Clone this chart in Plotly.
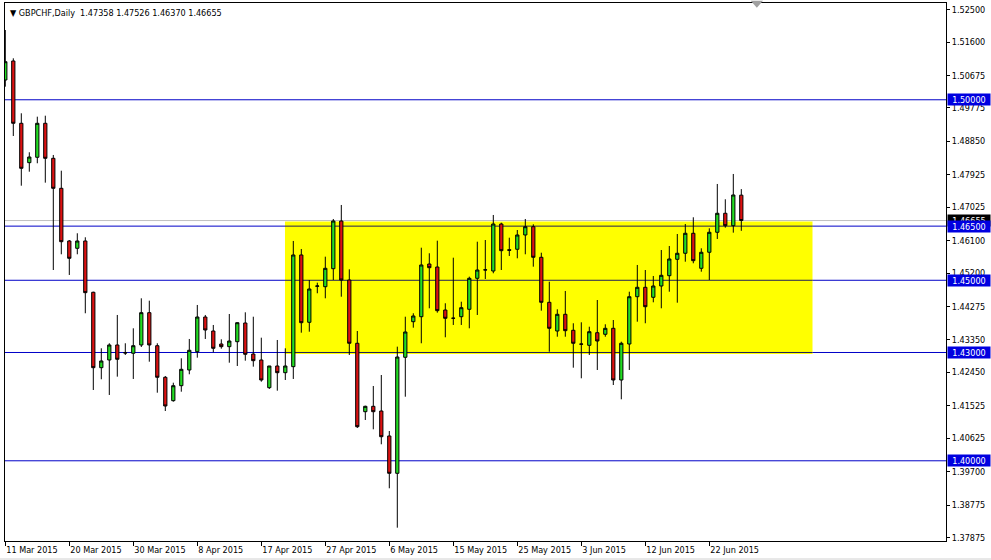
import plotly.graph_objects as go

# ---------------- data (GBPCHF daily) ----------------
open_ = [1.50548, 1.51075, 1.49349, 1.48258, 1.48407, 1.49349, 1.48379, 1.47548, 1.46089, 1.45886,
         1.46089, 1.44668, 1.42579, 1.42792, 1.43208, 1.43000, 1.42978, 1.43208, 1.44103, 1.43188,
         1.42313, 1.41665, 1.42080, 1.42515, 1.43022, 1.43983, 1.43595, 1.43235, 1.43161, 1.43299,
         1.43817, 1.42958, 1.42792, 1.42025, 1.42626, 1.42440, 1.42607, 1.45701, 1.43836, 1.44834,
         1.44822, 1.45321, 1.46642, 1.45008, 1.43255, 1.41360, 1.41509, 1.41379, 1.40687, 1.39653,
         1.42867, 1.43853, 1.43991, 1.45451, 1.45368, 1.44177, 1.43947, 1.43991, 1.44196, 1.45055,
         1.45285, 1.45257, 1.46559, 1.45847, 1.45859, 1.46255, 1.46485, 1.45637, 1.44390, 1.43595,
         1.44058, 1.43615, 1.43235, 1.43199, 1.43548, 1.43504, 1.43670, 1.42238, 1.43235, 1.44545,
         1.44806, 1.44529, 1.44842, 1.45127, 1.45581, 1.45748, 1.46302, 1.45332, 1.45776, 1.46330,
         1.46856, 1.46512, 1.47358]

high = [1.51933, 1.51149, 1.49626, 1.48546, 1.49532, 1.49559, 1.48471, 1.48036, 1.46116, 1.46302,
        1.46191, 1.44684, 1.43116, 1.43255, 1.44039, 1.43255, 1.43670, 1.44501, 1.44435, 1.43255,
        1.42349, 1.42163, 1.42839, 1.43374, 1.44316, 1.44039, 1.43762, 1.43365, 1.44066, 1.43836,
        1.44113, 1.43991, 1.43410, 1.42626, 1.43346, 1.43116, 1.46089, 1.45867, 1.45008, 1.44933,
        1.45654, 1.46698, 1.47086, 1.45304, 1.43595, 1.41526, 1.42072, 1.42376, 1.40825, 1.43161,
        1.43991, 1.44086, 1.45903, 1.45748, 1.46097, 1.44363, 1.45626, 1.44407, 1.45100, 1.46069,
        1.46116, 1.46809, 1.46595, 1.46180, 1.46393, 1.46698, 1.46551, 1.45764, 1.44961, 1.44196,
        1.44704, 1.43809, 1.43836, 1.43714, 1.44454, 1.43781, 1.43900, 1.43299, 1.44684, 1.45424,
        1.45285, 1.45119, 1.45839, 1.45950, 1.46282, 1.46559, 1.46745, 1.45886, 1.46440, 1.47668,
        1.47244, 1.47945, 1.47526]

low = [1.50363, 1.48997, 1.47620, 1.48008, 1.48241, 1.47704, 1.45285, 1.45720, 1.45147, 1.45720,
       1.44086, 1.41961, 1.42258, 1.41823, 1.42330, 1.42931, 1.42266, 1.43152, 1.42745, 1.41886,
       1.41379, 1.41637, 1.41914, 1.42396, 1.42856, 1.43374, 1.43005, 1.43105, 1.42717, 1.42626,
       1.42773, 1.42607, 1.42191, 1.41989, 1.41942, 1.42238, 1.42266, 1.43548, 1.43576, 1.44640,
       1.44501, 1.45008, 1.44545, 1.42931, 1.40908, 1.41130, 1.40872, 1.40457, 1.39238, 1.38147,
       1.41775, 1.43687, 1.43255, 1.44224, 1.44103, 1.43421, 1.43762, 1.43762, 1.43670, 1.44039,
       1.45036, 1.45194, 1.45285, 1.45673, 1.45609, 1.45720, 1.45377, 1.44158, 1.43022, 1.43437,
       1.43437, 1.42579, 1.42285, 1.42931, 1.42515, 1.43437, 1.42099, 1.41703, 1.42515, 1.43853,
       1.43809, 1.44390, 1.44224, 1.44684, 1.44379, 1.45515, 1.45471, 1.45238, 1.45008, 1.46144,
       1.46457, 1.46319, 1.46370]

close = [1.51055, 1.49349, 1.48102, 1.48415, 1.49349, 1.48379, 1.47548, 1.46069, 1.45609, 1.46089,
         1.44657, 1.42579, 1.42765, 1.43208, 1.42812, 1.42986, 1.43188, 1.44103, 1.43208, 1.42313,
         1.41518, 1.42080, 1.42534, 1.43061, 1.43983, 1.43623, 1.43116, 1.43161, 1.43318, 1.43825,
         1.42950, 1.42773, 1.42238, 1.42626, 1.42440, 1.42626, 1.45701, 1.43825, 1.44759, 1.44842,
         1.45332, 1.46642, 1.45008, 1.43255, 1.40944, 1.41509, 1.41360, 1.40667, 1.39653, 1.42875,
         1.43568, 1.44011, 1.45424, 1.45349, 1.44158, 1.43947, 1.43950, 1.44241, 1.45055, 1.45285,
         1.45290, 1.46559, 1.45820, 1.45831, 1.46255, 1.46485, 1.45637, 1.44390, 1.43670, 1.44058,
         1.43604, 1.43255, 1.43230, 1.43576, 1.43318, 1.43670, 1.42238, 1.43255, 1.44545, 1.44806,
         1.44268, 1.44842, 1.45138, 1.45590, 1.45748, 1.46302, 1.45543, 1.45776, 1.46330, 1.46856,
         1.46512, 1.47363, 1.46655]

date_tick_bars = [0, 8, 16, 24, 32, 40, 48, 56, 64, 72, 80, 88]
date_tick_labels = ["11 Mar 2015", "20 Mar 2015", "30 Mar 2015", "8 Apr 2015", "17 Apr 2015",
                    "27 Apr 2015", "6 May 2015", "15 May 2015", "25 May 2015", "3 Jun 2015",
                    "12 Jun 2015", "22 Jun 2015"]

price_ticks = [1.52500, 1.51600, 1.50675, 1.49775, 1.48850, 1.47925, 1.47025, 1.46100, 1.45200,
               1.44275, 1.43350, 1.42450, 1.41525, 1.40625, 1.39700, 1.38775, 1.37875]

level_lines = [1.50000, 1.46500, 1.45000, 1.43000, 1.40000]
bid_price = 1.46655
zone_bars = [34.96, 100.9]
zone_prices = [1.4296, 1.4663]

header = "GBPCHF,Daily  1.47358 1.47526 1.46370 1.46655"

# ---------------- figure ----------------
FONT = "DejaVu Sans Condensed, Liberation Sans, Arial, sans-serif"
x = list(range(len(open_)))

fig = go.Figure()
fig.add_trace(go.Candlestick(
    x=x, open=open_, high=high, low=low, close=close,
    increasing=dict(line=dict(color="black", width=1), fillcolor="#22DD22"),
    decreasing=dict(line=dict(color="black", width=1), fillcolor="#DD1111"),
    whiskerwidth=0, showlegend=False, hoverinfo="skip"))

shapes = []
shapes.append(dict(type="rect", xref="x", yref="y", x0=zone_bars[0], x1=zone_bars[1],
                   y0=zone_prices[0], y1=zone_prices[1], fillcolor="#FFFF00",
                   line=dict(width=0), layer="below"))
shapes.append(dict(type="line", xref="paper", yref="y", x0=0, x1=1, y0=bid_price, y1=bid_price,
                   line=dict(color="#C0C0C0", width=1), layer="below"))
for lv in level_lines:
    shapes.append(dict(type="line", xref="paper", yref="y", x0=0, x1=1, y0=lv, y1=lv,
                       line=dict(color="#0000C8", width=1), layer="below"))
    if zone_prices[0] - 0.0005 <= lv <= zone_prices[1]:
        shapes.append(dict(type="line", xref="x", yref="y", x0=zone_bars[0], x1=zone_bars[1],
                           y0=lv, y1=lv, line=dict(color="#20205A", width=1), layer="below"))
# chart-shift marker at the top
shapes.append(dict(type="path", xref="paper", yref="paper",
                   path="M 0.7925 1.004 L 0.8055 1.004 L 0.799 0.991 Z",
                   fillcolor="#A0A0A0", line=dict(width=0)))
# window frame lines (bottom edge)
shapes.append(dict(type="line", xref="paper", yref="paper", x0=-0.006, x1=1.05,
                   y0=-0.0335, y1=-0.0335, line=dict(color="#D0D0D0", width=1)))

annotations = []
annotations.append(dict(xref="paper", yref="paper", x=0, y=1, xanchor="left", yanchor="top",
                        xshift=3, yshift=-3, showarrow=False,
                        text="\u25BC " + header,
                        font=dict(family=FONT, size=9, color="black")))
annotations.append(dict(xref="paper", yref="y", x=1, y=bid_price, xanchor="left", yanchor="middle",
                        showarrow=False, text=f"{bid_price:.5f}", bgcolor="#000000",
                        font=dict(family=FONT, size=9, color="white"), borderpad=0, width=42,
                        height=11, align="center", xshift=1))
for lv in level_lines:
    annotations.append(dict(xref="paper", yref="y", x=1, y=lv, xanchor="left", yanchor="middle",
                            showarrow=False, text=f"{lv:.5f}", bgcolor="#0000E0",
                            font=dict(family=FONT, size=9, color="white"), borderpad=0, width=42,
                            height=11, align="center", xshift=1))

fig.update_layout(
    width=991, height=560,
    margin=dict(l=5, r=45, t=3, b=19, autoexpand=False),
    paper_bgcolor="white", plot_bgcolor="white",
    shapes=shapes, annotations=annotations,
    font=dict(family=FONT, size=9, color="black"),
    boxgap=0.42,
    xaxis=dict(range=[-0.0375, 117.5875], rangeslider=dict(visible=False), automargin=False,
               tickmode="array", tickvals=date_tick_bars, ticktext=date_tick_labels,
               ticks="outside", ticklen=4, tickcolor="black", ticklabelposition="outside right",
               showgrid=False, zeroline=False, showline=True, linecolor="black", linewidth=1,
               mirror=True, tickfont=dict(family=FONT, size=9, color="black")),
    yaxis=dict(range=[1.37778, 1.52681], side="right", tickmode="array", tickvals=price_ticks,
               automargin=False,
               ticktext=[f"{v:.5f}" for v in price_ticks], ticks="outside", ticklen=3,
               tickcolor="black", showgrid=False, zeroline=False, showline=True,
               linecolor="black", linewidth=1, mirror=True,
               tickfont=dict(family=FONT, size=9, color="black")),
)

fig.write_html("out.html", config={"displayModeBar": False, "staticPlot": True},
               post_script="document.body.style.margin='0';")
